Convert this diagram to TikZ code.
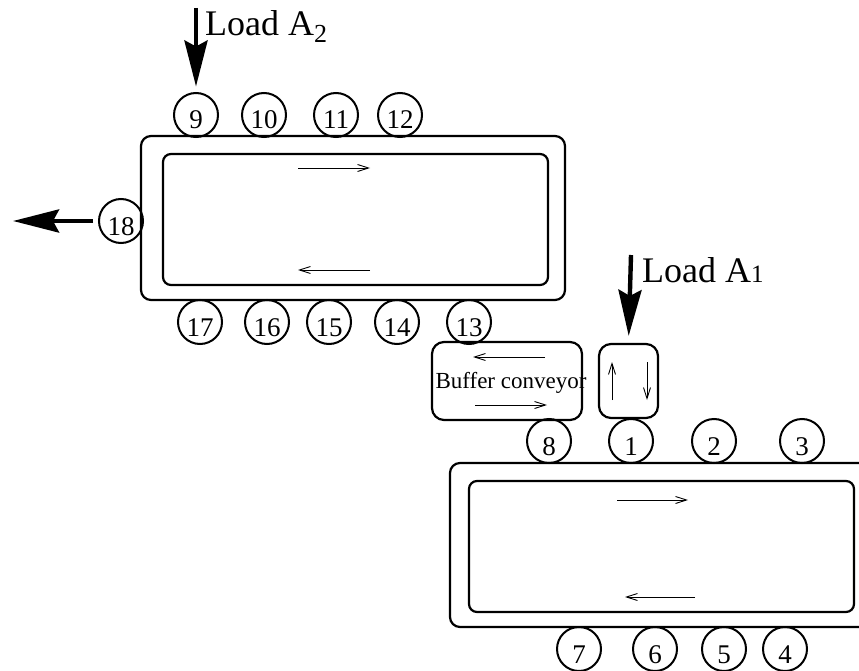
\documentclass[tikz,border=0pt]{standalone}
\usepackage{fontspec}
\setmainfont{Liberation Serif}
\usetikzlibrary{arrows.meta,positioning}
\tikzset{
  belt/.style={draw, line width=2.2pt, rounded corners=10pt, minimum width=424pt, minimum height=164pt, inner sep=0pt},
  track/.style={draw, line width=2.2pt, rounded corners=8pt, minimum width=385pt, minimum height=131pt, inner sep=0pt},
  cbox/.style={draw, line width=2.2pt, rounded corners=12pt, inner sep=0pt},
  st/.style={circle, draw, line width=2pt, minimum size=44pt, inner sep=0pt, font=\fontsize{27}{27}\selectfont, text height=28pt, text depth=0pt},
  flow/.style={-{Straight Barb[length=11pt,width=7pt]}, line width=0.9pt},
  load/.style={-{Stealth[length=46pt,width=23pt,inset=6pt]}, line width=4.4pt},
  lbl/.style={font=\fontsize{36}{36}\selectfont, inner sep=0pt, anchor=base west},
}
\begin{document}
\begin{tikzpicture}[x=1pt,y=-1pt]
  \clip (0,0) rectangle (859,671);
  % conveyor loops
  \node[belt] (loopA2) at (353,218) {};
  \node[track] (trackA2) at (355.5,219.5) {};
  \node[belt] (loopA1) at (662,545) {};
  \node[track] (trackA1) at (661.5,546.5) {};
  \node[cbox, minimum width=150pt, minimum height=78pt] (buffer) at (507,381) {};
  \node[cbox, minimum width=59pt, minimum height=74pt] (lift) at (628.5,381) {};
  \node[font=\fontsize{23}{23}\selectfont, inner sep=0pt] (bufftxt) at (511,383) {Buffer conveyor};
  % stations
  \foreach \n/\x in {9/196,10/264,11/336,12/400} \node[st] (s\n) at (\x,115) {\n};
  \foreach \n/\x in {17/200,16/267,15/329,14/397,13/469} \node[st] (s\n) at (\x,322) {\n};
  \node[st] (s18) at (121,221) {18};
  \foreach \n/\x in {8/549,1/631,2/714,3/802} \node[st] (s\n) at (\x,441) {\n};
  \foreach \n/\x in {7/579,6/655,5/724,4/785} \node[st] (s\n) at (\x,649) {\n};
  % running directions
  \draw[flow] (298,168) -- (370,168);
  \draw[flow] (370,270) -- (298,270);
  \draw[flow] (617,500) -- (688,500);
  \draw[flow] (695,597) -- (625,597);
  \draw[flow] (545,357) -- (473,357);
  \draw[flow] (475,405) -- (547,405);
  \draw[flow] (612,400) -- (612,362);
  \draw[flow] (647,362) -- (647,400);
  % loads in and out
  \coordinate (inA2) at (196,8);
  \coordinate (inA1) at (631,255);
  \coordinate (out) at (13,221);
  \draw[load, shorten >=5.5pt] (inA2) -- (s9.north);
  \draw[load, shorten >=7pt] (inA1) -- (lift.north);
  \draw[load, shorten <=5pt] (s18.west) -- (out);
  \node[lbl] (loadA2) at (205,36) {Load A\raisebox{-7pt}{\fontsize{26}{26}\selectfont 2}};
  \node[lbl] (loadA1) at (642,282) {Load A{\fontsize{25}{25}\selectfont 1}};
\end{tikzpicture}
\end{document}
